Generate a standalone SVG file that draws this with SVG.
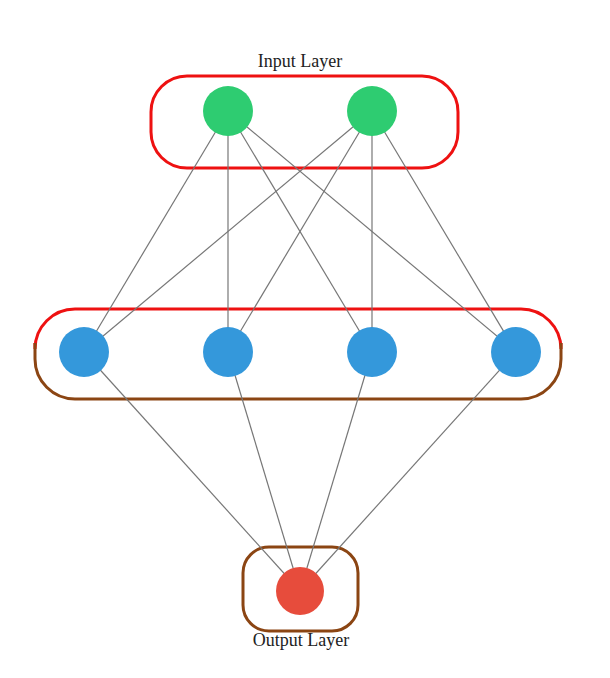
<svg xmlns="http://www.w3.org/2000/svg" width="610" height="678" viewBox="0 0 610 678">
<style>
.edge{stroke:#777;stroke-width:1.2;fill:none}
.box{fill:none;stroke-width:3}
.lbl{font-family:"Liberation Serif",serif;font-size:18px;fill:#222;text-anchor:middle}
.in{fill:#2ecc71}
.hid{fill:#3498db}
.out{fill:#e74c3c}
</style>
<rect width="610" height="678" fill="#fff"/>
<g id="layer-boxes">
<rect id="input-box" class="box" x="151" y="76" width="307" height="92" rx="36" stroke="#ee1111"/>
<path id="hidden-box-top" class="box" stroke="#ee1111" d="M35,343 V349 A40,40 0 0 1 75,309 H521 A40,40 0 0 1 561,349 V343" />
<path id="hidden-box-bottom" class="box" stroke="#8B4513" d="M35,343 V359 A40,40 0 0 0 75,399 H521 A40,40 0 0 0 561,359 V343"/>
<rect id="output-box" class="box" x="243" y="547" width="115" height="84" rx="26" stroke="#8B4513"/>
</g>
<g id="connectors">
<line class="edge" x1="228" y1="111" x2="84" y2="352"/>
<line class="edge" x1="228" y1="111" x2="228" y2="352"/>
<line class="edge" x1="228" y1="111" x2="372" y2="352"/>
<line class="edge" x1="228" y1="111" x2="516" y2="352"/>
<line class="edge" x1="372" y1="111" x2="84" y2="352"/>
<line class="edge" x1="372" y1="111" x2="228" y2="352"/>
<line class="edge" x1="372" y1="111" x2="372" y2="352"/>
<line class="edge" x1="372" y1="111" x2="516" y2="352"/>
<line class="edge" x1="84" y1="352" x2="300" y2="591"/>
<line class="edge" x1="228" y1="352" x2="300" y2="591"/>
<line class="edge" x1="372" y1="352" x2="300" y2="591"/>
<line class="edge" x1="516" y1="352" x2="300" y2="591"/>
</g>
<g id="input-1"><circle class="in" cx="228" cy="111" r="25"/></g>
<g id="input-2"><circle class="in" cx="372" cy="111" r="25"/></g>
<g id="hidden-1"><circle class="hid" cx="84" cy="352" r="25"/></g>
<g id="hidden-2"><circle class="hid" cx="228" cy="352" r="25"/></g>
<g id="hidden-3"><circle class="hid" cx="372" cy="352" r="25"/></g>
<g id="hidden-4"><circle class="hid" cx="516" cy="352" r="25"/></g>
<g id="output-1"><circle class="out" cx="300" cy="591" r="24"/></g>
<g id="labels">
<text class="lbl" x="300" y="67">Input Layer</text>
<text class="lbl" x="301" y="646">Output Layer</text>
</g>
</svg>
